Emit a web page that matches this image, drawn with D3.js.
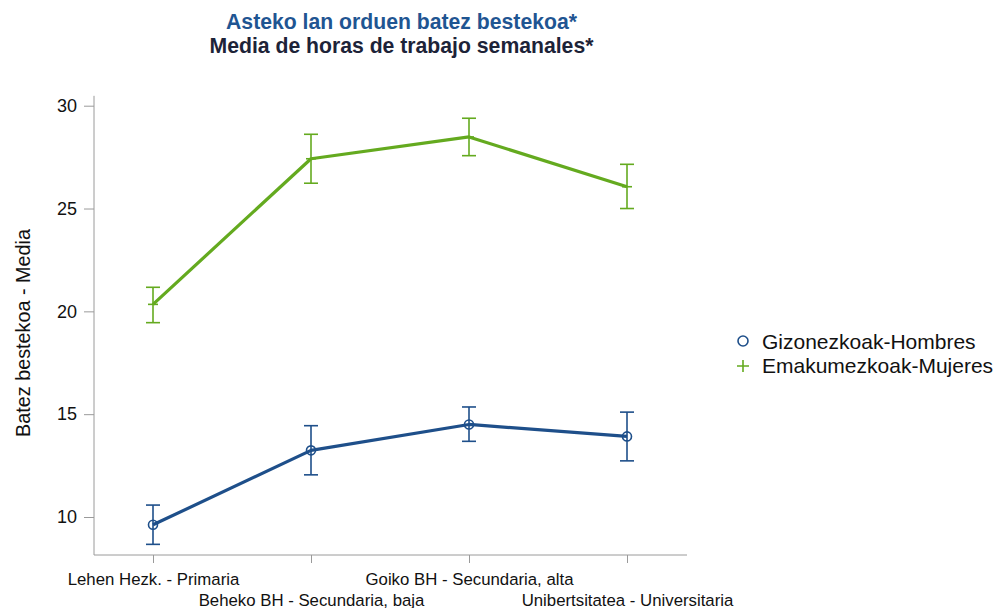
<!DOCTYPE html>
<html>
<head>
<meta charset="utf-8">
<script src="https://cdn.jsdelivr.net/npm/d3@7"></script>
<style>
body { margin: 0; background: #fff; }
text { font-family: "Liberation Sans", Arial, sans-serif; }
</style>
</head>
<body>
<svg id="mysvg" width="1000" height="608"></svg>
<script>
let categories = ["Lehen Hezk. - Primaria", "Beheko BH - Secundaria, baja", "Goiko BH - Secundaria, alta", "Unibertsitatea - Universitaria"];
let seriesNames = ["Gizonezkoak-Hombres", "Emakumezkoak-Mujeres"];
let menMean = [9.62, 13.24, 14.5, 13.92];
let menLow = [8.67, 12.05, 13.68, 12.73];
let menHigh = [10.58, 14.44, 15.35, 15.1];
let womenMean = [20.34, 27.42, 28.48, 26.06];
let womenLow = [19.45, 26.23, 27.57, 25.0];
let womenHigh = [21.17, 28.61, 29.39, 27.15];
let yTicks = [10, 15, 20, 25, 30];

let blue = "#1e4f8a";
let green = "#64aa1f";

let svg = d3.select('#mysvg');

let x = d3.scalePoint().domain(categories).range([153, 627]);
// axis line spans 94..687
let y = d3.scaleLinear().domain([10, 30]).range([517, 105.7]);

// titles
svg.append("text").attr("x", 401.5).attr("y", 28.5).attr("text-anchor", "middle")
    .attr("font-size", 21.2).attr("font-weight", "bold").attr("fill", "#1f5592")
    .text("Asteko lan orduen batez bestekoa*");
svg.append("text").attr("x", 401.5).attr("y", 53).attr("text-anchor", "middle")
    .attr("font-size", 21.2).attr("font-weight", "bold").attr("fill", "#1d2338")
    .text("Media de horas de trabajo semanales*");

// y axis
let yAxis = svg.append("g").attr("transform", "translate(94,0)")
    .call(d3.axisLeft(y).tickValues(yTicks).tickSize(10).tickPadding(7));
yAxis.select(".domain").attr("d", "M0," + y(30.48) + "V555").attr("stroke", "#9a9a9a");
yAxis.selectAll(".tick line").attr("stroke", "#9a9a9a");
yAxis.selectAll(".tick text").attr("font-size", 18).attr("fill", "#111")
    .attr("font-family", "Liberation Sans, Arial, sans-serif");

// x axis
let xAxis = svg.append("g").attr("transform", "translate(0,555)")
    .call(d3.axisBottom(x).tickSize(8).tickFormat(""));
xAxis.select(".domain").attr("d", "M94,0H687").attr("stroke", "#9a9a9a");
xAxis.selectAll(".tick line").attr("stroke", "#9a9a9a");
xAxis.selectAll(".tick").append("text")
    .attr("y", function(d, i){return i % 2 == 0 ? 30 : 51})
    .attr("text-anchor", "middle")
    .attr("font-size", 16.8)
    .attr("fill", "#111")
    .text(function(d){return d});

// y title
svg.append("text").attr("transform", "translate(30,333) rotate(-90)")
    .attr("text-anchor", "middle").attr("font-size", 19.8).attr("fill", "#111")
    .text("Batez bestekoa - Media");

function drawSeries(mean, low, high, color, marker)
{
    let data = categories.map(function(c, i){return {cat:c, m:mean[i], lo:low[i], hi:high[i]}});
    let g = svg.append("g");
    g.append("path").datum(data)
        .attr("fill", "none").attr("stroke", color).attr("stroke-width", 3.2)
        .attr("stroke-linejoin", "round")
        .attr("d", d3.line().x(d => x(d.cat)).y(d => y(d.m)));

    let eb = g.selectAll("g.err").data(data).enter().append("g").attr("class", "err")
        .attr("stroke", color).attr("stroke-width", 1.6).attr("fill", "none");
    eb.append("line").attr("x1", d => x(d.cat)).attr("x2", d => x(d.cat))
        .attr("y1", d => y(d.lo)).attr("y2", d => y(d.hi));
    eb.append("line").attr("x1", d => x(d.cat) - 7).attr("x2", d => x(d.cat) + 7)
        .attr("y1", d => y(d.lo)).attr("y2", d => y(d.lo));
    eb.append("line").attr("x1", d => x(d.cat) - 7).attr("x2", d => x(d.cat) + 7)
        .attr("y1", d => y(d.hi)).attr("y2", d => y(d.hi));

    if (marker == "circle")
    {
        eb.append("circle").attr("cx", d => x(d.cat)).attr("cy", d => y(d.m))
            .attr("r", 4.5).attr("fill", "none").attr("stroke-width", 1.6);
    }
    else
    {
        eb.append("line").attr("x1", d => x(d.cat) - 5).attr("x2", d => x(d.cat) + 5)
            .attr("y1", d => y(d.m)).attr("y2", d => y(d.m));
    }
}

drawSeries(womenMean, womenLow, womenHigh, green, "plus");
drawSeries(menMean, menLow, menHigh, blue, "circle");

// legend
let legend = svg.append("g").attr("transform", "translate(743,341)");
legend.append("circle").attr("cx", 0).attr("cy", 0).attr("r", 5)
    .attr("fill", "none").attr("stroke", blue).attr("stroke-width", 1.6);
legend.append("text").attr("x", 19).attr("y", 7.5).attr("font-size", 21).attr("fill", "#111")
    .text(seriesNames[0]);
legend.append("path").attr("d", "M-6,25H6M0,19V31").attr("stroke", green).attr("stroke-width", 1.6);
legend.append("text").attr("x", 19).attr("y", 32).attr("font-size", 21).attr("fill", "#111")
    .text(seriesNames[1]);
</script>
</body>
</html>
